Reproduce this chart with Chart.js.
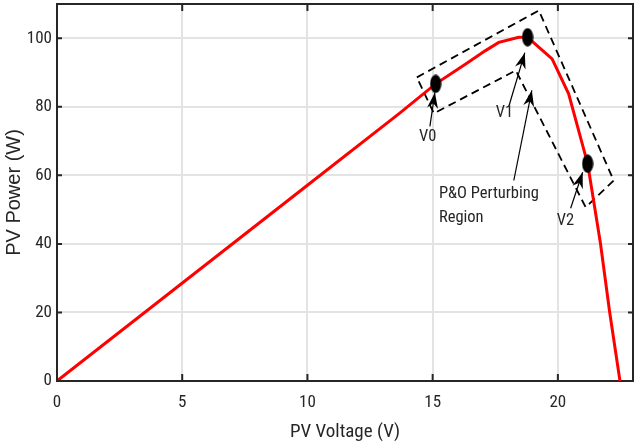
<!DOCTYPE html>
<html>
<head>
<meta charset="utf-8">
<script src="https://cdn.jsdelivr.net/npm/chart.js@4/dist/chart.umd.min.js"></script>
<style>
  body { margin: 0; background: #fff; }
  canvas { display: block; }
</style>
</head>
<body>
<canvas id="pvChart" width="635" height="446"></canvas>
<script>
// P-V curve
const voltage = [0, 10, 13.66, 15.12, 16.32, 17.11, 17.64, 18.44, 18.79, 19.1, 19.77, 20.43, 21.19, 21.7, 22.07, 22.48];
const power = [0, 57.1, 78, 86.7, 92.5, 96.4, 98.8, 100.3, 100.3, 98.3, 94, 83.8, 63.4, 40.2, 20, 0];

// operating points V0, V1, V2
const markerV = [15.12, 18.79, 21.19];
const markerP = [86.7, 100.3, 63.4];

// dashed perturbing region outline
const boxV = [14.37, 19.24, 22.23, 21.11, 18.32, 15.05, 14.37];
const boxP = [88.6, 108.1, 58.5, 50.7, 90.6, 78.1, 88.6];

// arrows (tail -> head)
const arrowFromV = [14.89, 18.04, 18.24, 20.51];
const arrowFromP = [74.3, 80.1, 58.5, 50.4];
const arrowToV = [15.09, 18.68, 18.96, 20.99];
const arrowToP = [84.2, 95.8, 84.8, 60.9];

// annotation texts (left edge, vertical middle)
const labelText = ['V0', 'V1', 'P&O Perturbing', 'Region', 'V2'];
const labelV = [14.45, 17.52, 15.25, 15.25, 19.96];
const labelP = [71.1, 78.1, 54.6, 47.6, 46.6];

const xTicks = [0, 5, 10, 15, 20];
const yTicks = [0, 20, 40, 60, 80, 100];

const textColor = '#262626';
const condensed = "'Roboto Condensed', 'Liberation Sans', Arial, sans-serif";
Chart.defaults.font.family = condensed;
Chart.defaults.color = textColor;

// black ellipse used as marker
const dot = document.createElement('canvas');
dot.width = 12;
dot.height = 19;
const dctx = dot.getContext('2d');
dctx.fillStyle = '#000';
dctx.beginPath();
dctx.ellipse(6, 9.5, 5.6, 9.2, 0, 0, Math.PI * 2);
dctx.fill();

const toXY = (xs, ys) => xs.map((v, i) => ({ x: v, y: ys[i] }));

// no extra room for the end labels, the frame is fixed
const noPadding = (s) => {
    s.paddingTop = 0;
    s.paddingBottom = 0;
    s.paddingLeft = 0;
    s.paddingRight = 0;
};

const framePlugin = {
    id: 'frame',
    afterDatasetsDraw(chart) {
        const { ctx, scales } = chart;
        const x = scales.x;
        const y = scales.y;
        ctx.save();

        // arrows
        ctx.strokeStyle = '#000';
        ctx.fillStyle = '#000';
        ctx.lineWidth = 1.2;
        arrowFromV.forEach((v, i) => {
            const x0 = x.getPixelForValue(v);
            const y0 = y.getPixelForValue(arrowFromP[i]);
            const x1 = x.getPixelForValue(arrowToV[i]);
            const y1 = y.getPixelForValue(arrowToP[i]);
            ctx.beginPath();
            ctx.moveTo(x0, y0);
            ctx.lineTo(x1, y1);
            ctx.stroke();
            ctx.save();
            ctx.translate(x1, y1);
            ctx.rotate(Math.atan2(y1 - y0, x1 - x0));
            ctx.beginPath();
            ctx.moveTo(0, 0);
            ctx.lineTo(-16, -5.5);
            ctx.lineTo(-11, 0);
            ctx.lineTo(-16, 5.5);
            ctx.closePath();
            ctx.fill();
            ctx.restore();
        });

        // texts
        ctx.fillStyle = textColor;
        ctx.font = '16.5px ' + condensed;
        ctx.textBaseline = 'middle';
        ctx.textAlign = 'left';
        labelText.forEach((t, i) => {
            ctx.fillText(t, x.getPixelForValue(labelV[i]), y.getPixelForValue(labelP[i]));
        });
        ctx.restore();
    },
    afterDraw(chart) {
        const { ctx, chartArea: a, scales } = chart;
        ctx.save();
        ctx.strokeStyle = textColor;
        ctx.lineWidth = 2;
        ctx.beginPath();
        ctx.moveTo(a.left, a.top);
        ctx.lineTo(a.right, a.top);
        ctx.lineTo(a.right, a.bottom);
        ctx.stroke();
        // inward ticks on all four sides
        ctx.beginPath();
        xTicks.forEach((v) => {
            const px = scales.x.getPixelForValue(v);
            ctx.moveTo(px, a.bottom);
            ctx.lineTo(px, a.bottom - 7);
            ctx.moveTo(px, a.top);
            ctx.lineTo(px, a.top + 7);
        });
        yTicks.forEach((v) => {
            const py = scales.y.getPixelForValue(v);
            ctx.moveTo(a.left, py);
            ctx.lineTo(a.left + 5, py);
            ctx.moveTo(a.right, py);
            ctx.lineTo(a.right - 5, py);
        });
        ctx.stroke();
        ctx.restore();
    },
};

new Chart(document.getElementById('pvChart'), {
    type: 'scatter',
    data: {
        datasets: [
            {
                data: toXY(markerV, markerP),
                pointStyle: dot,
                pointRadius: 6,
                order: 0,
            },
            {
                data: toXY(voltage, power),
                showLine: true,
                borderColor: '#ff0000',
                borderWidth: 3,
                pointRadius: 0,
                order: 1,
            },
            {
                data: toXY(boxV, boxP),
                showLine: true,
                borderColor: '#000',
                borderWidth: 1.8,
                borderDash: [8, 5],
                pointRadius: 0,
                order: 2,
            },
        ],
    },
    options: {
        responsive: false,
        animation: false,
        devicePixelRatio: 1,
        layout: { autoPadding: false, padding: { top: 4, right: 2, left: 0, bottom: 0 } },
        plugins: {
            legend: { display: false },
            tooltip: { enabled: false },
        },
        scales: {
            x: {
                type: 'linear',
                min: 0,
                max: 23,
                afterBuildTicks: (s) => { s.ticks = xTicks.map((v) => ({ value: v })); },
                afterFit: (s) => { s.height = 65; noPadding(s); },
                grid: { color: '#e3e3e3', lineWidth: 2, drawTicks: false },
                border: { color: textColor, width: 2 },
                ticks: { padding: 12, font: { size: 17 }, maxRotation: 0 },
                title: {
                    display: true,
                    text: 'PV Voltage (V)',
                    font: { size: 19 },
                    padding: { top: 0, bottom: 2 },
                },
            },
            y: {
                min: 0,
                max: 110,
                afterBuildTicks: (s) => { s.ticks = yTicks.map((v) => ({ value: v })); },
                afterFit: (s) => { s.width = 57; noPadding(s); },
                grid: { color: '#e3e3e3', lineWidth: 2, drawTicks: false },
                border: { color: textColor, width: 2 },
                ticks: { padding: 5, font: { size: 17 } },
                title: {
                    display: true,
                    text: 'PV Power (W)',
                    font: { size: 20, family: "'Liberation Sans', Arial, sans-serif" },
                    padding: { top: 2, bottom: 0 },
                },
            },
        },
    },
    plugins: [framePlugin],
});
</script>
</body>
</html>
